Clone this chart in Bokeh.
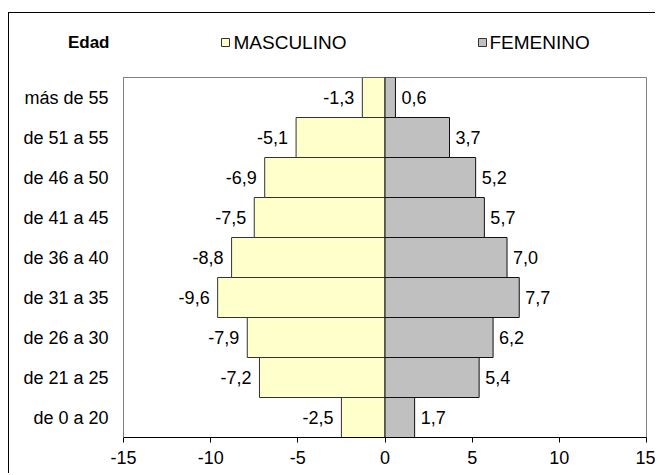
from bokeh.plotting import figure
from bokeh.layouts import column
from bokeh.models import ColumnDataSource, FactorRange, Range1d, FixedTicker
from bokeh.core.properties import value
from bokeh.embed import file_html
from bokeh.resources import INLINE

categories = ["de 0 a 20", "de 21 a 25", "de 26 a 30", "de 31 a 35", "de 36 a 40",
              "de 41 a 45", "de 46 a 50", "de 51 a 55", "más de 55"]
masculino = [-2.5, -7.2, -7.9, -9.6, -8.8, -7.5, -6.9, -5.1, -1.3]
femenino = [1.7, 5.4, 6.2, 7.7, 7.0, 5.7, 5.2, 3.7, 0.6]
x_ticks = [-15, -10, -5, 0, 5, 10, 15]
x_tick_labels = ["-15", "-10", "-5", "0", "5", "10", "15"]
legend_title = "Edad"
legend_labels = ["MASCULINO", "FEMENINO"]
color_m = "#FFFFCC"
color_f = "#C0C0C0"

FONT = "Liberation Sans"
FS = "18px"
W = 646
FRAME_W = 523

def fmt(v):
    return f"{v:.1f}".replace(".", ",")

# ---------------- header (legend row) ----------------
hdr = figure(width=W, height=40, x_range=Range1d(0, FRAME_W), y_range=Range1d(0, 40),
             output_backend="svg", toolbar_location=None,
             min_border_left=114, min_border_right=9, min_border_top=0,
             min_border_bottom=0)
hdr.xaxis.visible = False
hdr.outline_line_color = None
hdr.background_fill_color = "white"
hdr.border_fill_color = "white"
hdr.xgrid.visible = False
hdr.ygrid.visible = False
hya = hdr.yaxis[0]
hya.ticker = FixedTicker(ticks=[11])
hya.major_label_overrides = {11: legend_title}
hya.axis_line_color = None
hya.major_tick_line_color = None
hya.minor_tick_line_color = None
hya.major_tick_out = 0
hya.major_tick_in = 0
hya.major_label_standoff = 14
hya.major_label_text_font = FONT
hya.major_label_text_font_size = "17px"
hya.major_label_text_font_style = "bold"
hya.major_label_text_color = "#000000"

leg_src = ColumnDataSource(dict(
    label=legend_labels,
    color=[color_m, color_f],
    sq_x=[102, 359],
    tx_x=[110, 366],
    y=[11, 11],
))
hdr.rect(x="sq_x", y="y", width=8, height=8, source=leg_src, fill_color="color",
         line_color="#333333", line_width=1)
hdr.text(x="tx_x", y="y", text="label", source=leg_src, text_align="left",
         text_baseline="middle", text_font=value(FONT), text_font_size="19px",
         text_color="#000000")

# ---------------- main chart ----------------
src = ColumnDataSource(dict(
    cat=categories,
    m=masculino,
    f=femenino,
    zero=[0] * len(categories),
    mlab=[fmt(v) for v in masculino],
    flab=[fmt(v) for v in femenino],
))

p = figure(width=W, height=420, y_range=FactorRange(*categories),
           x_range=Range1d(-15, 15), output_backend="svg", toolbar_location=None,
           min_border_left=114, min_border_right=9, min_border_top=24,
           min_border_bottom=36)
p.background_fill_color = "white"
p.border_fill_color = "white"
p.outline_line_color = "#808080"
p.outline_line_width = 1
p.xgrid.visible = False
p.ygrid.visible = False

p.hbar(y="cat", left="m", right="zero", height=1.0, source=src,
       fill_color=color_m, line_color="#333333", line_width=1)
p.hbar(y="cat", left="zero", right="f", height=1.0, source=src,
       fill_color=color_f, line_color="#111111", line_width=1)

p.text(x="m", y="cat", text="mlab", source=src, x_offset=-8, text_align="right",
       text_baseline="middle", text_font=value(FONT), text_font_size=FS,
       text_color="#000000")
p.text(x="f", y="cat", text="flab", source=src, x_offset=6, text_align="left",
       text_baseline="middle", text_font=value(FONT), text_font_size=FS,
       text_color="#000000")

xa = p.xaxis[0]
xa.ticker = FixedTicker(ticks=x_ticks)
xa.major_label_overrides = {t: s for t, s in zip(x_ticks, x_tick_labels)}
xa.axis_line_color = "#000000"
xa.major_tick_line_color = "#000000"
xa.major_tick_out = 5
xa.major_tick_in = 0
xa.minor_tick_line_color = None
xa.major_label_text_font = FONT
xa.major_label_text_font_size = FS
xa.major_label_text_color = "#000000"
xa.major_label_standoff = 8

ya = p.yaxis[0]
ya.axis_line_color = "#808080"
ya.major_tick_line_color = None
ya.major_tick_out = 0
ya.major_tick_in = 0
ya.minor_tick_line_color = None
ya.major_label_text_font = FONT
ya.major_label_text_font_size = FS
ya.major_label_text_color = "#000000"
ya.major_label_standoff = 15

layout = column(hdr, p, spacing=0)
layout.styles = {"margin-left": "8px", "margin-top": "12px",
                 "border-left": "1px solid #000", "border-top": "1px solid #000"}

open("out.html", "w").write(file_html(layout, INLINE))
